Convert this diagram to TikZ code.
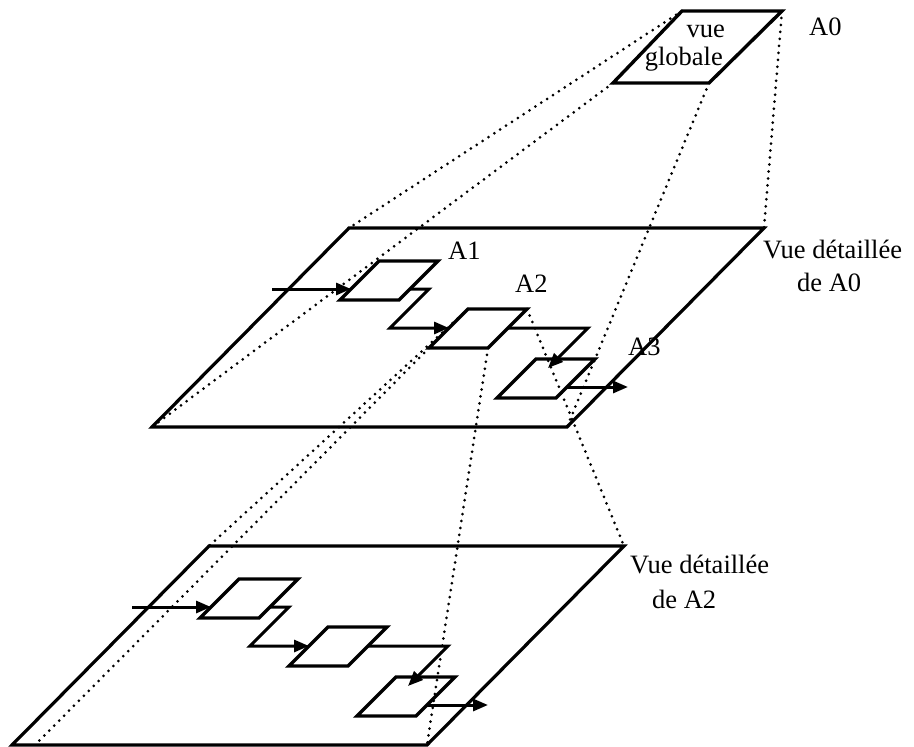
\documentclass[tikz,border=0pt]{standalone}
\usepackage{fontspec}
\setmainfont{Liberation Serif}
\usetikzlibrary{arrows.meta}
\begin{document}
\begin{tikzpicture}[x=1pt,y=-1pt,
  plane/.style={line width=3.2pt},
  box/.style={line width=3.4pt},
  conn/.style={line width=3pt, -{Triangle[length=15pt,width=12pt]}},
  dots/.style={line width=3pt, line cap=round, dash pattern=on 0pt off 7pt},
  lbl/.style={font=\fontsize{26.5}{30}\selectfont, inner sep=0pt}]
\useasboundingbox (0,0) rectangle (914,747);

% global view A0
\coordinate (a0bl) at (613,83);
\coordinate (a0br) at (709,83);
\coordinate (a0tr) at (782,11);
\coordinate (a0tl) at (682,11);
\draw[box] (a0bl) -- (a0br) -- (a0tr) -- (a0tl) -- cycle;
\node[lbl, anchor=base east] (vue) at (725,37) {vue};
\node[lbl, anchor=base east] (globale) at (723,65) {globale};
\node[lbl, anchor=base west] (lA0) at (809,35) {A0};

% two detailed planes (same content, shifted)
\foreach \p/\ox/\oy in {m/152/427, b/12/745}{
  \begin{scope}[shift={(\ox,\oy)}]
    \coordinate (\p-bl) at (0,0);
    \coordinate (\p-br) at (415,0);
    \coordinate (\p-tr) at (612,-199);
    \coordinate (\p-tl) at (197,-199);
    \draw[plane] (\p-bl) -- (\p-br) -- (\p-tr) -- (\p-tl) -- cycle;
    \foreach \i/\bx/\by in {1/188/-127, 2/277/-79, 3/345/-29}{
      \coordinate (\p\i-bl) at (\bx,\by);
      \coordinate (\p\i-br) at (\bx+59,\by);
      \coordinate (\p\i-tr) at (\bx+98,\by-39);
      \coordinate (\p\i-tl) at (\bx+39,\by-39);
      \draw[box] (\p\i-bl) -- (\p\i-br) -- (\p\i-tr) -- (\p\i-tl) -- cycle;
    }
    \coordinate (\p-in) at (120,-138);
    \coordinate (\p-a1in) at (199,-138);
    \coordinate (\p-c1s) at (258,-138);
    \coordinate (\p-c1a) at (277,-138);
    \coordinate (\p-c1b) at (238,-99);
    \coordinate (\p-c1e) at (297,-99);
    \coordinate (\p-c2s) at (356,-99);
    \coordinate (\p-c2a) at (436,-99);
    \coordinate (\p-c2e) at (396,-59);
    \coordinate (\p-c3s) at (415,-40);
    \coordinate (\p-out) at (476,-40);
    \draw[conn] (\p-in) -- (\p-a1in);
    \draw[conn] (\p-c1s) -- (\p-c1a) -- (\p-c1b) -- (\p-c1e);
    \draw[conn] (\p-c2s) -- (\p-c2a) -- (\p-c2e);
    \draw[conn] (\p-c3s) -- (\p-out);
  \end{scope}
}

% projection lines A0 -> middle plane
\draw[dots] (a0tl) -- (m-tl);
\draw[dots] (a0bl) -- (m-bl);
\draw[dots] (a0tr) -- (m-tr);
\draw[dots] (a0br) -- (m-br);

% projection lines A2 -> bottom plane
\coordinate (b-dot) at (35,745);
\draw[dots] (m2-tl) -- (b-tl);
\draw[dots] (m2-bl) -- (b-dot);
\draw[dots] (m2-tr) -- (b-tr);
\draw[dots] (m2-br) -- (b-br);

% labels
\node[lbl, anchor=base west] (lA1) at (448,259) {A1};
\node[lbl, anchor=base west] (lA2) at (515,292) {A2};
\node[lbl, anchor=base west] (lA3) at (628,355) {A3};
\node[lbl, anchor=base west] (v0a) at (763,258) {Vue détaillée};
\node[lbl, anchor=base west] (v0b) at (797,291) {de A0};
\node[lbl, anchor=base west] (v2a) at (630,573) {Vue détaillée};
\node[lbl, anchor=base west] (v2b) at (652,608) {de A2};
\end{tikzpicture}
\end{document}
